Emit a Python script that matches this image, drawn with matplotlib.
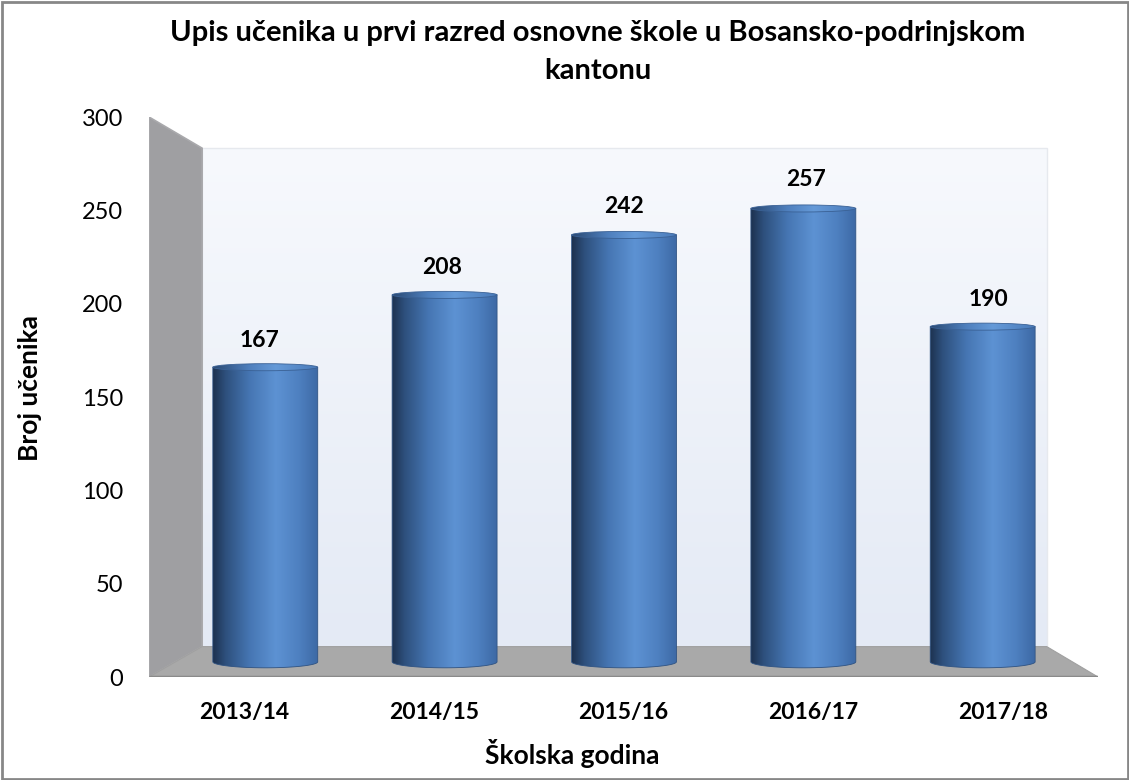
import matplotlib
matplotlib.use('Agg')
import matplotlib.pyplot as plt
import numpy as np
from matplotlib.patches import Polygon, Ellipse, PathPatch, Rectangle
from matplotlib.path import Path
from matplotlib.transforms import Affine2D
from matplotlib.colors import LinearSegmentedColormap

plt.rcParams['font.family'] = ['Lato', 'DejaVu Sans']

# podaci
years = ['2013/14', '2014/15', '2015/16', '2016/17', '2017/18']
students = [167, 208, 242, 257, 190]
y_ticks = [0, 50, 100, 150, 200, 250, 300]

W, H = 1129, 780
fig = plt.figure(figsize=(W / 100, H / 100), dpi=100)
ax = fig.add_axes([149 / W, 103 / H, 949 / W, 560 / H])
ax.set_facecolor('none')

# perspektiva: zadnja ravan = prednja ravan skupljena prema tacki nestajanja
vx, vy = 2.045, 148.0
k_back, k_mid, k_lbl = 0.89, 0.945, 0.96
def shrink(k):
    return Affine2D().translate(-vx, -vy).scale(k).translate(vx, vy)
shrink_back = shrink(k_back)
back = shrink_back + ax.transData
mid = shrink(k_mid) + ax.transData
lbl = shrink(k_lbl) + ax.transData

x0, x1, ymax = -0.5, len(years) - 0.5, 300

# zadnji zid
wall_cmap = LinearSegmentedColormap.from_list('wall', ['#E4EAF5', '#F7F9FD'])
ax.imshow(np.linspace(0, 1, 256).reshape(-1, 1), cmap=wall_cmap, origin='lower',
          extent=(x0, x1, 0, ymax), aspect='auto', transform=back, zorder=0)
ax.add_patch(Rectangle((x0, 0), x1 - x0, ymax, transform=back, fill=False,
                       edgecolor='#E6E9EE', lw=1, zorder=0.5))

# lijevi zid i pod
front_pts = np.array([[x0, 0], [x0, ymax]])
back_pts = shrink_back.transform(front_pts)
ax.add_patch(Polygon([front_pts[0], front_pts[1], back_pts[1], back_pts[0]],
                     closed=True, facecolor='#9F9FA2', edgecolor='#A9A9AC', lw=1.2, zorder=1))
floor_front = np.array([[x0, 0], [x1, 0]])
floor_back = shrink_back.transform(floor_front)
ax.add_patch(Polygon([floor_front[0], floor_front[1], floor_back[1], floor_back[0]],
                     closed=True, facecolor='#A9A9A9', edgecolor='#A0A0A0', lw=0.8, zorder=1))
ax.plot([x0, x1], [0, 0], color='#8A8A8A', lw=2.5, zorder=1.5, solid_capstyle='butt')

# valjci
cyl_cmap = LinearSegmentedColormap.from_list(
    'cyl', [(0, '#1D3250'), (0.12, '#2E507D'), (0.35, '#4676B3'),
            (0.6, '#5D92D3'), (0.82, '#4E80C0'), (1, '#3D69A5')])
top_cmap = LinearSegmentedColormap.from_list(
    'top', [(0, '#2A4A74'), (0.35, '#4F80BE'), (0.6, '#659AD8'), (1, '#4A7BBA')])
half_w = 0.585 / 2
eb = 3.4   # donja elipsa
et = 2.0   # gornja elipsa
grad = np.linspace(0, 1, 256).reshape(1, -1)

for i, v in enumerate(students):
    t = np.linspace(0, np.pi, 40)
    arc = np.column_stack([i - half_w * np.cos(t), -eb * np.sin(t)])
    verts = np.vstack([[i - half_w, v], arc, [i + half_w, v], [i - half_w, v]])
    codes = [Path.MOVETO] + [Path.LINETO] * (len(verts) - 2) + [Path.CLOSEPOLY]
    body = PathPatch(Path(verts, codes), transform=mid, facecolor='none',
                     edgecolor='#2F5383', lw=0.6, zorder=3.1)
    ax.add_patch(body)
    im = ax.imshow(grad, cmap=cyl_cmap, extent=(i - half_w, i + half_w, -eb, v),
                   aspect='auto', transform=mid, zorder=3)
    im.set_clip_path(body)

    top = Ellipse((i, v), 2 * half_w, 2 * et, transform=mid, facecolor='none',
                  edgecolor='#3A6195', lw=0.6, zorder=4.1)
    ax.add_patch(top)
    im2 = ax.imshow(grad, cmap=top_cmap, extent=(i - half_w, i + half_w, v - et, v + et),
                    aspect='auto', transform=mid, zorder=4)
    im2.set_clip_path(top)

    ax.annotate(str(v), xy=(i, v), xycoords=lbl, xytext=(0, 14),
                textcoords='offset points', ha='center', va='baseline',
                fontsize=16.5, fontweight='bold', color='black', zorder=5)

ax.set_xlim(x0, x1)
ax.set_ylim(0, ymax)
ax.set_xticks(range(len(years)))
ax.set_xticklabels(years, fontsize=16.5, fontweight='bold')
ax.set_yticks(y_ticks)
ax.set_yticklabels([str(t) for t in y_ticks], fontsize=17)
ax.tick_params(axis='x', length=0, pad=18)
ax.tick_params(axis='y', length=0, pad=18.5)
for s in ax.spines.values():
    s.set_visible(False)

fig.text(598 / W, 1 - 52 / H, 'Upis učenika u prvi razred osnovne škole u Bosansko-podrinjskom\nkantonu',
         ha='center', va='center', fontsize=21, fontweight='bold', linespacing=1.6)
fig.text(572 / W, 1 - 754 / H, 'Školska godina', ha='center', va='center',
         fontsize=19, fontweight='bold')
fig.text(30 / W, 1 - 388 / H, 'Broj učenika', ha='center', va='center',
         rotation=90, fontsize=19, fontweight='bold')

fig.patches.append(Rectangle((1.5 / W, 1.5 / H), 1 - 3 / W, 1 - 3 / H, transform=fig.transFigure,
                             fill=False, edgecolor='#878787', lw=2))

fig.savefig('out.png', dpi=100)
